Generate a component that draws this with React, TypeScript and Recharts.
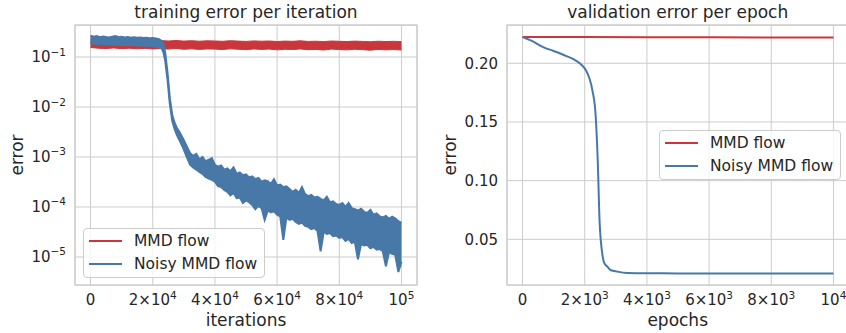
import React from "react";
import { ComposedChart, Area, Line, XAxis, YAxis, CartesianGrid, ReferenceArea, Legend } from "recharts";

const FONT = "'DejaVu Sans', sans-serif";
const INK = "#262626";
const GRID = "#cccccc";
const RED = "#c9363b";
const BLUE = "#4878a8";

// training error per iteration, MMD flow: noise band (low / high)
const mmdIters = [0, 2500, 5000, 7500, 10000, 12500, 15000, 17500, 20000, 22500, 25000, 27500, 30000, 32500, 35000, 37500, 40000, 42500, 45000, 47500, 50000, 52500, 55000, 57500, 60000, 62500, 65000, 67500, 70000, 72500, 75000, 77500, 80000, 82500, 85000, 87500, 90000, 92500, 95000, 97500, 100000];
const mmdLow = [0.155, 0.150, 0.148, 0.152, 0.147, 0.150, 0.146, 0.149, 0.145, 0.147, 0.144, 0.148, 0.143, 0.146, 0.142, 0.145, 0.144, 0.141, 0.146, 0.143, 0.140, 0.145, 0.142, 0.144, 0.139, 0.143, 0.141, 0.145, 0.140, 0.142, 0.138, 0.144, 0.141, 0.139, 0.143, 0.140, 0.137, 0.142, 0.139, 0.141, 0.138];
const mmdHigh = [0.222, 0.217, 0.215, 0.219, 0.212, 0.216, 0.211, 0.215, 0.210, 0.213, 0.209, 0.214, 0.208, 0.212, 0.207, 0.211, 0.209, 0.206, 0.212, 0.208, 0.205, 0.210, 0.207, 0.209, 0.204, 0.208, 0.206, 0.211, 0.205, 0.207, 0.203, 0.209, 0.206, 0.204, 0.208, 0.205, 0.202, 0.207, 0.204, 0.206, 0.203];

// training error per iteration, Noisy MMD flow: noise band (low / high)
const noisyIters = [0, 1000, 2000, 3000, 4000, 5000, 6000, 7000, 8000, 9000, 10000, 11000, 12000, 13000, 14000, 15000, 16000, 17000, 18000, 19000, 20000, 21000, 22000, 22900, 23500, 24000, 24700, 25500, 26300, 27000, 27700, 28700, 29800, 31000, 32000, 33000, 34000, 35000, 36000, 37000, 38000, 39000, 40000, 41000, 42000, 43000, 44000, 45000, 46000, 47000, 48000, 49000, 50000, 51000, 52000, 53000, 54000, 55000, 56000, 57000, 58000, 59000, 60000, 61000, 62000, 63000, 64000, 65000, 66000, 67000, 68000, 69000, 70000, 71000, 72000, 73000, 74000, 75000, 76000, 77000, 78000, 79000, 80000, 81000, 82000, 83000, 84000, 85000, 86000, 87000, 88000, 89000, 90000, 91000, 92000, 93000, 94000, 95000, 96000, 97000, 98000, 99000, 100000];
const noisyLow = [0.182, 0.188, 0.178, 0.185, 0.180, 0.176, 0.183, 0.178, 0.175, 0.180, 0.174, 0.178, 0.172, 0.176, 0.170, 0.174, 0.169, 0.172, 0.167, 0.170, 0.165, 0.162, 0.155, 0.150, 0.120, 0.085, 0.038, 0.0115, 0.0052, 0.0037, 0.0028, 0.0021, 0.0015, 0.00098,
  7.0e-4, 6.2e-4, 5.6e-4, 5.0e-4, 4.6e-4, 4.0e-4, 3.7e-4, 3.5e-4, 3.2e-4, 2.6e-4, 2.5e-4, 2.2e-4, 2.0e-4, 1.7e-4, 1.9e-4, 1.5e-4, 1.55e-4, 1.2e-4, 1.35e-4, 1.25e-4, 1.1e-4, 9.0e-5, 1.05e-4, 9.5e-5, 5.5e-5, 8.5e-5, 7.8e-5, 8.2e-5, 7.0e-5, 6.5e-5, 2.2e-5, 6.2e-5, 5.5e-5, 5.8e-5, 5.0e-5, 4.6e-5, 4.9e-5, 4.2e-5, 4.0e-5, 3.6e-5, 3.8e-5, 3.3e-5, 1.3e-5, 3.2e-5, 2.9e-5, 3.0e-5, 2.6e-5, 2.7e-5, 2.4e-5, 2.5e-5, 2.1e-5, 2.3e-5, 1.9e-5, 2.0e-5, 9.0e-6, 1.8e-5, 1.7e-5, 1.75e-5, 1.5e-5, 1.6e-5, 1.4e-5, 1.45e-5, 1.3e-5, 6.5e-6, 1.25e-5, 1.15e-5, 1.1e-5, 5.0e-6, 8.0e-6];
const noisyHigh = [0.268, 0.255, 0.262, 0.250, 0.258, 0.252, 0.247, 0.256, 0.262, 0.249, 0.253, 0.246, 0.250, 0.244, 0.249, 0.242, 0.246, 0.240, 0.244, 0.238, 0.240, 0.236, 0.228, 0.210, 0.175, 0.125, 0.053, 0.015, 0.0068, 0.0049, 0.0039, 0.0031, 0.0023, 0.0016,
  1.2e-3, 1.05e-3, 1.15e-3, 9.0e-4, 1.0e-3, 8.2e-4, 8.8e-4, 9.5e-4, 7.0e-4, 6.4e-4, 6.8e-4, 5.6e-4, 5.9e-4, 5.2e-4, 6.2e-4, 4.6e-4, 4.9e-4, 4.3e-4, 4.5e-4, 3.9e-4, 4.1e-4, 3.6e-4, 3.8e-4, 3.2e-4, 3.4e-4, 3.3e-4, 2.9e-4, 3.6e-4, 2.7e-4, 2.8e-4, 2.5e-4, 2.6e-4, 2.3e-4, 2.0e-4, 2.2e-4, 1.9e-4, 2.5e-4, 1.8e-4, 1.65e-4, 1.75e-4, 1.55e-4, 1.6e-4, 1.45e-4, 1.35e-4, 1.6e-4, 1.25e-4, 1.3e-4, 1.15e-4, 1.1e-4, 1.2e-4, 1.0e-4, 1.2e-4, 9.5e-5, 9.0e-5, 8.5e-5, 9.2e-5, 8.0e-5, 7.6e-5, 8.8e-5, 7.0e-5, 7.4e-5, 6.5e-5, 6.2e-5, 6.6e-5, 5.8e-5, 6.4e-5, 5.9e-5, 5.2e-5, 4.8e-5];

// validation error per epoch
const epochsMmd = [0, 2000, 4000, 6000, 8000, 10000];
const valMmd = [0.2224, 0.2223, 0.2222, 0.2221, 0.222, 0.2219];
const epochsNoisy = [0, 300, 700, 1000, 1450, 1700, 1900, 2050, 2150, 2250, 2350, 2420, 2480, 2520, 2570, 2620, 2730, 2830, 3050, 3370, 4100, 5000, 6000, 8000, 10000];
const valNoisy = [0.2224, 0.219, 0.2133, 0.2105, 0.2057, 0.2025, 0.1985, 0.1935, 0.1873, 0.1765, 0.156, 0.116, 0.064, 0.048, 0.0367, 0.0304, 0.0267, 0.0239, 0.0225, 0.0214, 0.0211, 0.021, 0.021, 0.0209, 0.0209];

const iterTicks = [0, 20000, 40000, 60000, 80000, 100000];
const errTicks = [1e-5, 1e-4, 1e-3, 1e-2, 1e-1];
const epochTicks = [0, 2000, 4000, 6000, 8000, 10000];
const valTicks = [0.05, 0.1, 0.15, 0.2];

const series = [
  { name: "MMD flow", color: RED },
  { name: "Noisy MMD flow", color: BLUE },
];

function merge(xs1: number[], v1: any[], xs2: number[], v2: any[]) {
  const all = Array.from(new Set([...xs1, ...xs2])).sort((a, b) => a - b);
  return all.map(x => {
    const i = xs1.indexOf(x);
    const j = xs2.indexOf(x);
    return { x, mmd: i >= 0 ? v1[i] : undefined, noisy: j >= 0 ? v2[j] : undefined };
  });
}

const trainData = merge(
  mmdIters, mmdIters.map((_, i) => [mmdLow[i], mmdHigh[i]]),
  noisyIters, noisyIters.map((_, i) => [noisyLow[i], noisyHigh[i]]),
);
const valData = merge(epochsMmd, valMmd, epochsNoisy, valNoisy);

const tickStyle = { fontFamily: FONT, fontSize: 15, fill: INK };

function PowTick({ x, y, payload, exp }: any) {
  const v = payload.value;
  const top = Math.pow(10, exp + 1);
  let base = "";
  let sup = "";
  if (v === 0) base = "0";
  else if (v === top) { base = "10"; sup = String(exp + 1); }
  else { base = `${v / Math.pow(10, exp)}\u00d710`; sup = String(exp); }
  return (
    <text x={x} y={y + 20} textAnchor="middle" {...tickStyle}>
      <tspan>{base}</tspan>
      {sup && <tspan dy={-6.5} fontSize={10.5}>{sup}</tspan>}
    </text>
  );
}

function LogTick({ x, y, payload }: any) {
  const e = Math.round(Math.log10(payload.value));
  return (
    <text x={x - 9} y={y + 5} textAnchor="end" {...tickStyle}>
      <tspan>10</tspan>
      <tspan dy={-6.5} fontSize={10.5}>{`\u2212${Math.abs(e)}`}</tspan>
    </text>
  );
}

function ValTick({ x, y, payload }: any) {
  return (
    <text x={x - 9} y={y + 5.5} textAnchor="end" {...tickStyle}>{payload.value.toFixed(2)}</text>
  );
}

function LegendBox() {
  return (
    <div style={{ position: "relative", boxSizing: "border-box", width: 182, height: 50, border: `1px solid ${GRID}`, borderRadius: 4, background: "rgba(255,255,255,0.8)", fontFamily: FONT, fontSize: 15.5, color: INK }}>
      {series.map((s, i) => (
        <div key={s.name} style={{ position: "absolute", left: 5, top: 1.5 + i * 23, height: 20, display: "flex", alignItems: "center", whiteSpace: "nowrap" }}>
          <div style={{ width: 33, height: 2, background: s.color }} />
          <span style={{ marginLeft: 12, lineHeight: "20px" }}>{s.name}</span>
        </div>
      ))}
    </div>
  );
}

function TrainChart() {
  return (
    <ComposedChart width={420} height={333} data={trainData} margin={{ top: 25, right: 3, bottom: 18, left: 15 }}>
      <CartesianGrid stroke={GRID} strokeWidth={1} />
      <XAxis dataKey="x" type="number" domain={[-5000, 105000]} ticks={iterTicks} allowDataOverflow height={30}
        axisLine={false} tickLine={false} tickSize={0} tickMargin={0} interval={0} tick={<PowTick exp={4} />} />
      <YAxis type="number" scale="log" domain={[2.75e-6, 0.437]} ticks={errTicks} allowDataOverflow width={60}
        axisLine={false} tickLine={false} tickSize={0} tickMargin={0} interval={0} tick={<LogTick />} />
      <ReferenceArea x1={-5000} x2={105000} y1={2.75e-6} y2={0.437} fill="none" stroke={GRID} strokeWidth={1.25} ifOverflow="visible" />
      <Area dataKey="mmd" name="MMD flow" stroke={RED} strokeWidth={1} fill={RED} fillOpacity={1} connectNulls dot={false} activeDot={false} isAnimationActive={false} type="linear" />
      <Area dataKey="noisy" name="Noisy MMD flow" stroke={BLUE} strokeWidth={2} fill={BLUE} fillOpacity={1} connectNulls dot={false} activeDot={false} isAnimationActive={false} type="linear" />
      <Legend layout="vertical" align="center" verticalAlign="middle" content={() => <LegendBox />}
        wrapperStyle={{ left: 83, top: 228, width: 182, height: 50 }} />
    </ComposedChart>
  );
}

function ValChart() {
  return (
    <ComposedChart width={430} height={333} data={valData} margin={{ top: 25, right: 1, bottom: 18, left: 20 }}>
      <CartesianGrid stroke={GRID} strokeWidth={1} />
      <XAxis dataKey="x" type="number" domain={[-500, 10500]} ticks={epochTicks} allowDataOverflow height={30}
        axisLine={false} tickLine={false} tickSize={0} tickMargin={0} interval={0} tick={<PowTick exp={3} />} />
      <YAxis type="number" domain={[0.0111, 0.2326]} ticks={valTicks} allowDataOverflow width={67}
        axisLine={false} tickLine={false} tickSize={0} tickMargin={0} interval={0} tick={<ValTick />} />
      <ReferenceArea x1={-500} x2={10500} y1={0.0111} y2={0.2326} fill="none" stroke={GRID} strokeWidth={1.25} ifOverflow="visible" />
      <Line dataKey="mmd" name="MMD flow" stroke={RED} strokeWidth={2} connectNulls dot={false} activeDot={false} isAnimationActive={false} type="monotone" />
      <Line dataKey="noisy" name="Noisy MMD flow" stroke={BLUE} strokeWidth={2} connectNulls dot={false} activeDot={false} isAnimationActive={false} type="monotone" />
      <Legend layout="vertical" align="center" verticalAlign="middle" content={() => <LegendBox />}
        wrapperStyle={{ left: 239, top: 130, width: 182, height: 50 }} />
    </ComposedChart>
  );
}

export default function App() {
  const label = { fontFamily: FONT, fontSize: 17, fill: INK };
  return (
    <div style={{ position: "absolute", left: 0, top: 0, width: 846, height: 333, overflow: "hidden", background: "#fff" }}>
      <div style={{ position: "absolute", left: 0, top: 0 }}><TrainChart /></div>
      <div style={{ position: "absolute", left: 420, top: 0 }}><ValChart /></div>
      <svg width={846} height={333} style={{ position: "absolute", left: 0, top: 0, pointerEvents: "none" }}>
        <text x={246} y={18} textAnchor="middle" {...label}>training error per iteration</text>
        <text x={246} y={326} textAnchor="middle" {...label}>iterations</text>
        <text x={22.5} y={155} textAnchor="middle" transform="rotate(-90 22.5 155)" {...label}>error</text>
        <text x={677.7} y={18} textAnchor="middle" {...label}>validation error per epoch</text>
        <text x={677.7} y={326} textAnchor="middle" {...label}>epochs</text>
        <text x={455.5} y={155} textAnchor="middle" transform="rotate(-90 455.5 155)" {...label}>error</text>
      </svg>
    </div>
  );
}
